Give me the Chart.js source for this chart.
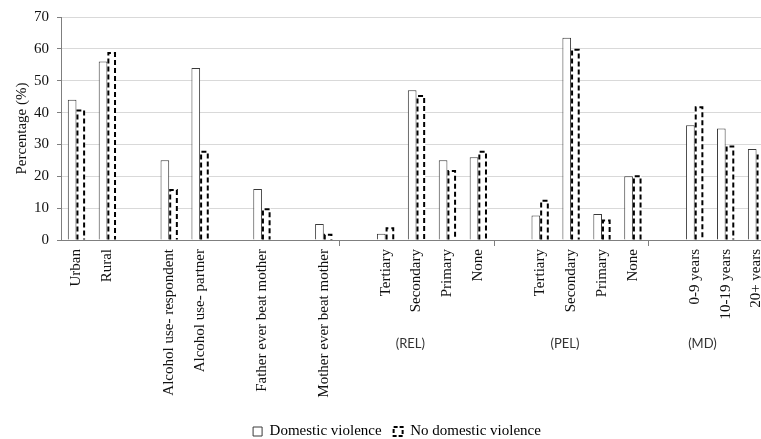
<!DOCTYPE html>
<html>
<head>
<meta charset="utf-8">
<script src="https://cdn.jsdelivr.net/npm/chart.js@4/dist/chart.umd.min.js"></script>
<style>
  html, body { margin: 0; padding: 0; overflow: hidden; background: #fff; }
  #wrap { width: 794px; height: 439px; }
</style>
</head>
<body>
<div id="wrap"><canvas id="chart" width="794" height="439"></canvas></div>
<script>
// categories (empty strings are the spacer slots between groups)
var categories = ['Urban', 'Rural', '', 'Alcohol use- respondent', 'Alcohol use- partner', '',
  'Father ever beat mother', '', 'Mother ever beat mother', '',
  'Tertiary', 'Secondary', 'Primary', 'None', '',
  'Tertiary', 'Secondary', 'Primary', 'None', '',
  '0-9 years', '10-19 years', '20+ years'];
var domesticViolence   = [44, 56, null, 25, 54, null, 16, null, 5, null, 2, 47, 25, 26, null, 7.7, 63.5, 8.2, 20, null, 36, 35, 28.6];
var noDomesticViolence = [41, 59, null, 16, 28, null, 10, null, 2, null, 4, 45.5, 22, 28, null, 12.6, 60, 6.4, 20.3, null, 42, 29.7, 26.8];
var seriesNames = ['Domestic violence', 'No domestic violence'];
var yTicks = [0, 10, 20, 30, 40, 50, 60, 70];
var groupLabels = ['(REL)', '(PEL)', '(MD)'];

var serif = 'Liberation Serif, Times New Roman, serif';

// dashed outline for the second series + small separators + group names
var extrasPlugin = {
  id: 'extras',
  afterDatasetsDraw: function(chart) {
    var ctx = chart.ctx;
    var meta = chart.getDatasetMeta(1);
    var values = chart.data.datasets[1].data;
    ctx.save();
    ctx.strokeStyle = '#000';
    ctx.lineWidth = 2;
    ctx.setLineDash([5, 3]);
    meta.data.forEach(function(bar, i) {
      if (values[i] === null || values[i] === undefined) return;
      var p = bar.getProps(['x', 'y', 'base', 'width'], true);
      var l = p.x - p.width / 2 + 1, r = p.x + p.width / 2 - 1;
      ctx.beginPath();
      ctx.moveTo(l, p.base);
      ctx.lineTo(l, p.y + 1);
      ctx.lineTo(r, p.y + 1);
      ctx.lineTo(r, p.base);
      ctx.stroke();
    });
    ctx.restore();
  },
  afterDraw: function(chart) {
    var ctx = chart.ctx, x = chart.scales.x, bottom = chart.chartArea.bottom;
    ctx.save();
    ctx.strokeStyle = '#7f7f7f';
    ctx.lineWidth = 1;
    [8, 13, 18].forEach(function(i) {
      var px = Math.round((x.getPixelForValue(i) + x.getPixelForValue(i + 1)) / 2) + 0.5;
      ctx.beginPath();
      ctx.moveTo(px, bottom);
      ctx.lineTo(px, bottom + 6);
      ctx.stroke();
    });
    ctx.fillStyle = '#333';
    ctx.font = '13px Lato, Liberation Sans, sans-serif';
    ctx.textAlign = 'center';
    ctx.textBaseline = 'middle';
    var step = x.getPixelForValue(1) - x.getPixelForValue(0);
    [10.8, 15.8, 20.25].forEach(function(pos, k) {
      var px = x.getPixelForValue(Math.floor(pos)) + (pos - Math.floor(pos)) * step;
      ctx.fillText(groupLabels[k], px, 344);
    });
    ctx.restore();
  }
};

new Chart(document.getElementById('chart').getContext('2d'), {
  type: 'bar',
  data: {
    labels: categories,
    datasets: [{
      label: seriesNames[0],
      data: domesticViolence,
      backgroundColor: '#fff',
      borderColor: '#3a3a3a',
      borderWidth: 1,
      categoryPercentage: 0.56,
      barPercentage: 1
    }, {
      label: seriesNames[1],
      data: noDomesticViolence,
      backgroundColor: '#fff',
      borderColor: '#000',
      borderWidth: 0,
      categoryPercentage: 0.56,
      barPercentage: 1
    }]
  },
  options: {
    responsive: false,
    animation: false,
    layout: { padding: { top: 16, left: 0, right: 0, bottom: -10 } },
    plugins: {
      tooltip: { enabled: false },
      legend: {
        position: 'bottom',
        labels: {
          font: { family: serif, size: 15 },
          color: '#111',
          boxWidth: 9,
          boxHeight: 9,
          padding: 12,
          generateLabels: function(chart) {
            return seriesNames.map(function(name, i) {
              return {
                text: name,
                fillStyle: '#fff',
                strokeStyle: i === 0 ? '#3a3a3a' : '#000',
                lineWidth: i === 0 ? 1 : 2,
                lineDash: i === 0 ? [] : [4, 2],
                datasetIndex: i
              };
            });
          }
        }
      }
    },
    scales: {
      x: {
        grid: { display: false },
        border: { color: '#7f7f7f', width: 1 },
        ticks: {
          autoSkip: false,
          maxRotation: 90,
          minRotation: 90,
          padding: 1,
          color: '#111',
          font: { family: serif, size: 15 }
        },
        afterFit: function(s) { s.height = 172; }
      },
      y: {
        min: 0,
        max: 70,
        afterBuildTicks: function(s) { s.ticks = yTicks.map(function(v) { return { value: v }; }); },
        grid: { color: '#d9d9d9', lineWidth: 1, tickLength: 4, tickColor: '#7f7f7f' },
        border: { color: '#7f7f7f', width: 1 },
        ticks: { padding: 8, color: '#111', font: { family: serif, size: 15 } },
        title: {
          display: true,
          text: 'Percentage (%)',
          color: '#111',
          font: { family: serif, size: 15 },
          padding: { top: 13, bottom: 0 }
        },
        afterFit: function(s) { s.width = 61; }
      },
      y2: {
        position: 'right',
        display: true,
        grid: { display: false },
        border: { display: false },
        ticks: { display: false },
        afterFit: function(s) { s.width = 22; }
      }
    }
  },
  plugins: [extrasPlugin]
});
</script>
</body>
</html>
